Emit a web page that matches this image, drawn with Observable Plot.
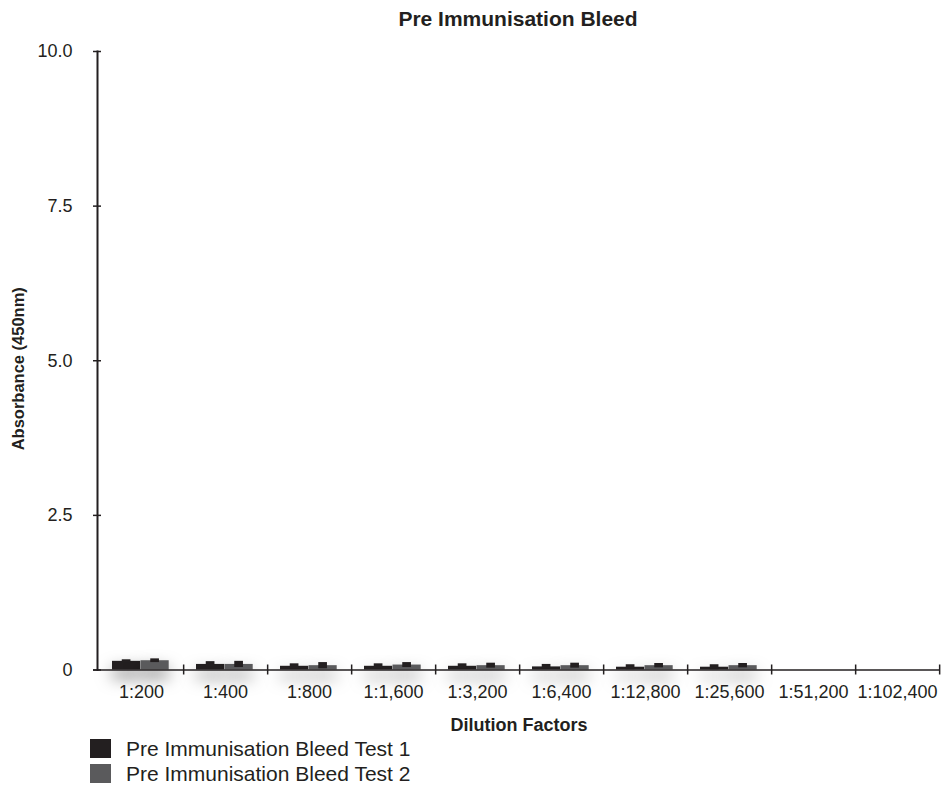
<!DOCTYPE html>
<html>
<head>
<meta charset="utf-8">
<script src="https://cdn.jsdelivr.net/npm/d3@7"></script>
<script src="https://cdn.jsdelivr.net/npm/@observablehq/plot@0.6"></script>
<style>
  body { margin: 0; background: #fff; font-family: "Liberation Sans", Arial, sans-serif; color: #231f20; }
  #wrap { position: relative; width: 943px; height: 786px; overflow: hidden; }
  #title { position: absolute; left: 318px; width: 400px; top: 8px; text-align: center;
           font-weight: bold; font-size: 21px; line-height: 22px; }
  #chart { position: absolute; left: 0; top: 0; }
  #legend { position: absolute; left: 90px; top: 736px; }
  .row { display: flex; align-items: center; height: 25px; }
  .swatch { width: 21px; height: 19px; margin-right: 15px; }
  .label { font-size: 21px; line-height: 21px; }
  /* soft shadow under the bars */
  #chart g[aria-label="bar"] { filter: drop-shadow(0 8px 8px rgba(0,0,0,0.5)); }
</style>
</head>
<body>
<div id="wrap">
  <div id="chart"></div>
  <div id="title">Pre Immunisation Bleed</div>
  <div id="legend"></div>
</div>
<script>
const categories = ["1:200", "1:400", "1:800", "1:1,600", "1:3,200", "1:6,400", "1:12,800", "1:25,600", "1:51,200", "1:102,400"];
const test1 = [0.14, 0.09, 0.06, 0.06, 0.06, 0.05, 0.045, 0.045, null, null];
const test1Err = [0.025, 0.045, 0.04, 0.04, 0.04, 0.04, 0.04, 0.04, null, null];
const test2 = [0.15, 0.09, 0.07, 0.08, 0.07, 0.07, 0.07, 0.07, null, null];
const test2Err = [0.03, 0.05, 0.05, 0.04, 0.04, 0.04, 0.035, 0.035, null, null];
const yTicks = [0, 2.5, 5, 7.5, 10];
const seriesNames = ["Pre Immunisation Bleed Test 1", "Pre Immunisation Bleed Test 2"];
const seriesColors = ["#231f20", "#5a5a5c"];

const rows = (vals, errs) => categories
  .map((dilution, i) => ({dilution, value: vals[i], err: errs[i]}))
  .filter(d => d.value != null);
const rows1 = rows(test1, test1Err);
const rows2 = rows(test2, test2Err);

const W = 943, H = 736, ML = 97, MR = 3;
const bw = (W - ML - MR) / categories.length;   // band width
const off = 13, barW = 28.5, errW = 9;          // bar group layout inside a band
const c1 = off + barW / 2, c2 = off + barW * 1.5;
const ink = "#231f20";

const chart = Plot.plot({
  width: W, height: H,
  marginLeft: ML, marginRight: MR, marginTop: 51, marginBottom: 66.5,
  x: {domain: categories, padding: 0},
  y: {domain: [0, 10]},
  style: {fontFamily: "'Liberation Sans', Arial, sans-serif", fontSize: "18px", color: ink, background: "#fff"},
  marks: [
    Plot.barY(rows1, {x: "dilution", y: "value", fill: seriesColors[0], insetLeft: off, insetRight: bw - off - barW}),
    Plot.barY(rows2, {x: "dilution", y: "value", fill: seriesColors[1], insetLeft: off + barW, insetRight: bw - off - 2 * barW}),
    Plot.rectY(rows1, {x: "dilution", y1: d => d.value - d.err, y2: d => d.value + d.err, fill: ink,
      insetLeft: c1 - errW / 2, insetRight: bw - c1 - errW / 2}),
    Plot.rectY(rows2, {x: "dilution", y1: d => d.value - d.err, y2: d => d.value + d.err, fill: ink,
      insetLeft: c2 - errW / 2, insetRight: bw - c2 - errW / 2}),
    Plot.ruleY([0], {stroke: ink, strokeWidth: 1.5, insetLeft: -4}),
    Plot.frame({anchor: "left", stroke: ink, strokeWidth: 2}),
    Plot.axisY(yTicks, {tickSize: 0, tickPadding: 25, label: null,
      tickFormat: d => d === 0 ? "0" : d.toFixed(1)}),
    Plot.axisY(yTicks, {tickSize: 8, dx: 4, label: null, tickFormat: () => "", stroke: ink, strokeWidth: 1.5}),
    Plot.axisX({tickSize: 0, tickPadding: 15, label: null}),
    Plot.axisX({tickSize: 10, dy: -5, dx: bw / 2, label: null, tickFormat: () => "", stroke: ink, strokeWidth: 1.5}),
    Plot.text(["Absorbance (450nm)"], {frameAnchor: "left", textAnchor: "middle", rotate: -90, dx: -79, dy: 8,
      fontWeight: "bold", fontSize: 16.5, fill: ink}),
    Plot.text(["Dilution Factors"], {frameAnchor: "bottom", dy: 61, fontWeight: "bold", fontSize: 18, fill: ink})
  ]
});
document.getElementById("chart").appendChild(chart);

const legend = d3.select("#legend");
seriesNames.forEach((name, i) => {
  const row = legend.append("div").attr("class", "row");
  row.append("div").attr("class", "swatch").style("background", seriesColors[i]);
  row.append("div").attr("class", "label").text(name);
});
</script>
</body>
</html>
